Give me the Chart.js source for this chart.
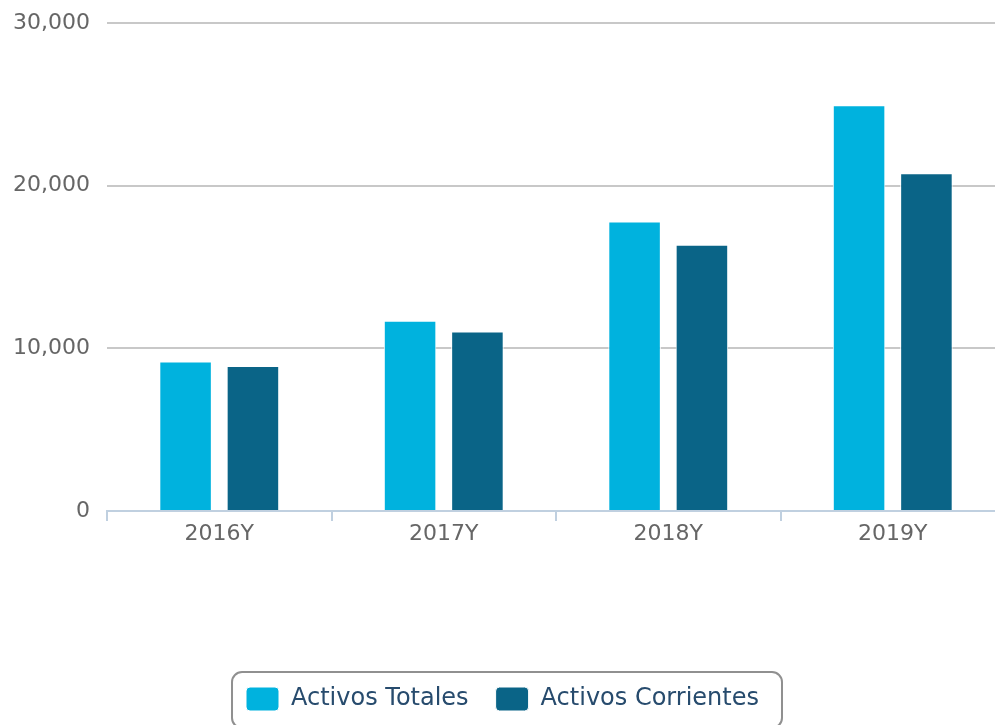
<!DOCTYPE html>
<html>
<head>
<meta charset="utf-8">
<script src="https://cdn.jsdelivr.net/npm/chart.js@4.4.1/dist/chart.umd.min.js"></script>
<style>
html,body{margin:0;padding:0;background:#fff;overflow:hidden;}
canvas{display:block;}
</style>
</head>
<body>
<canvas id="c" width="1014" height="744"></canvas>
<script>
const categories = ['2016Y', '2017Y', '2018Y', '2019Y'];
const activosTotales = [9190, 11700, 17790, 24950];
const activosCorrientes = [8920, 11030, 16370, 20760];
const seriesNames = ['Activos Totales', 'Activos Corrientes'];
const yTicks = [0, 10000, 20000, 30000];

const FONT = '"DejaVu Sans", Verdana, sans-serif';

const legendBorder = {
  id: 'legendBorder',
  afterDraw(chart) {
    const lg = chart.legend;
    if (!lg || !lg.legendHitBoxes || !lg.legendHitBoxes.length) return;
    const boxes = lg.legendHitBoxes;
    let l = Infinity, r = -Infinity, t = Infinity, b = -Infinity;
    boxes.forEach(h => { l = Math.min(l, h.left); r = Math.max(r, h.left + h.width); t = Math.min(t, h.top); b = Math.max(b, h.top + h.height); });
    const x = l - 14, y = t - 15, w = (r - l) + 37, hgt = (b - t) + 32;
    const ctx = chart.ctx;
    ctx.save();
    ctx.strokeStyle = '#909090';
    ctx.lineWidth = 2;
    ctx.beginPath();
    ctx.roundRect(x, y, w, hgt, 10);
    ctx.stroke();
    ctx.restore();
  }
};

new Chart(document.getElementById('c'), {
  type: 'bar',
  data: {
    labels: categories,
    datasets: [
      { label: seriesNames[0], data: activosTotales, backgroundColor: '#00b2de', borderColor: '#ffffff', borderWidth: 1 },
      { label: seriesNames[1], data: activosCorrientes, backgroundColor: '#0a6487', borderColor: '#ffffff', borderWidth: 1 }
    ]
  },
  options: {
    responsive: false,
    animation: false,
    locale: 'en-US',
    categoryPercentage: 0.6,
    barPercentage: 0.78,
    layout: { padding: { top: 23, right: 9, left: 0, bottom: 23 } },
    plugins: {
      tooltip: { enabled: false },
      legend: {
        position: 'bottom',
        labels: {
          font: { family: FONT, size: 24 },
          color: '#274b6d',
          boxWidth: 33,
          boxHeight: 24,
          padding: 27,
          useBorderRadius: true,
          borderRadius: 4
        }
      }
    },
    scales: {
      x: {
        grid: { drawOnChartArea: false, drawTicks: true, tickLength: 10, color: '#c0d0e0', lineWidth: 2 },
        border: { display: true, color: '#c0d0e0', width: 2 },
        ticks: { font: { family: FONT, size: 22 }, color: '#666666', padding: 0, maxRotation: 0 },
        afterFit(scale) { scale.height = 149; }
      },
      y: {
        min: yTicks[0],
        max: yTicks[yTicks.length - 1],
        afterBuildTicks(scale) { scale.ticks = yTicks.map(v => ({ value: v })); },
        grid: { drawTicks: true, tickLength: 17, tickColor: 'rgba(0,0,0,0)', lineWidth: 2, color: (ctx) => ctx.tick && ctx.tick.value === 0 ? 'rgba(0,0,0,0)' : '#c8c8c8' },
        border: { display: false },
        ticks: { font: { family: FONT, size: 22 }, color: '#666666', padding: 0 },
        afterFit(scale) { scale.width = 107; }
      }
    }
  },
  plugins: [legendBorder]
});
</script>
</body>
</html>
